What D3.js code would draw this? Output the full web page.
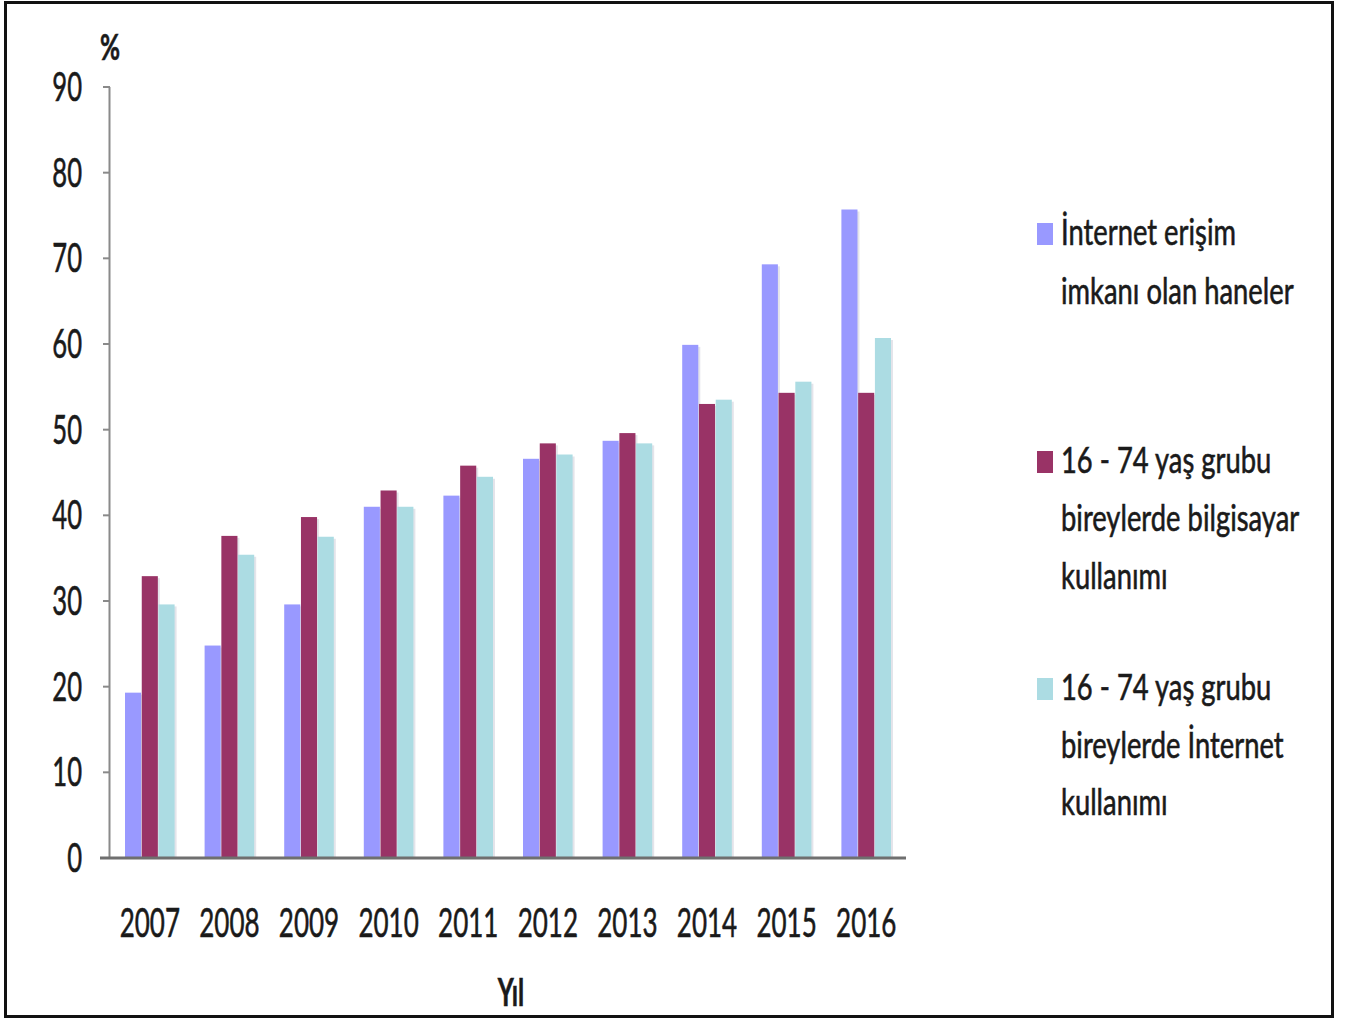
<!DOCTYPE html>
<html>
<head>
<meta charset="utf-8">
<script src="https://cdn.jsdelivr.net/npm/d3@7"></script>
<style>
  html, body { margin: 0; padding: 0; background: #fff; }
  svg { display: block; }
  text { font-family: Lato, "Open Sans", "DejaVu Sans", sans-serif; fill: #1a1a1a; stroke: #1a1a1a; stroke-width: 0.6px; }
</style>
</head>
<body>
<svg id="chart" width="1346" height="1020"></svg>
<script>
// Yearly ICT usage indicators (%)
const years = ["2007", "2008", "2009", "2010", "2011", "2012", "2013", "2014", "2015", "2016"];
const householdAccess = [19.3, 24.8, 29.6, 41.0, 42.3, 46.6, 48.7, 59.9, 69.3, 75.7];
const computerUse = [32.9, 37.6, 39.8, 42.9, 45.8, 48.4, 49.6, 53.0, 54.3, 54.3];
const internetUse = [29.6, 35.4, 37.5, 41.0, 44.5, 47.1, 48.4, 53.5, 55.6, 60.7];
const yTicks = [0, 10, 20, 30, 40, 50, 60, 70, 80, 90];
const seriesNames = [
  ["İnternet erişim", "imkanı olan haneler"],
  ["16 - 74 yaş grubu", "bireylerde bilgisayar", "kullanımı"],
  ["16 - 74 yaş grubu", "bireylerde İnternet", "kullanımı"]
];
const seriesColors = ["#9999ff", "#993366", "#acdce3"];

const series = [householdAccess, computerUse, internetUse];

const svg = d3.select("#chart");

// outer frame
svg.append("rect")
  .attr("x", 5.5).attr("y", 2.5)
  .attr("width", 1327).attr("height", 1014)
  .attr("fill", "none").attr("stroke", "#111").attr("stroke-width", 3);

const plot = { left: 110, right: 906, top: 87, bottom: 858 };

const y = d3.scaleLinear().domain([0, 90]).range([plot.bottom, plot.top]);
const x = d3.scaleBand().domain(years).range([plot.left, plot.right])
  .paddingInner(0.36).paddingOuter(0.18);
const xs = d3.scaleBand().domain(d3.range(series.length)).range([0, x.bandwidth()]).padding(0.04);

// condensed text helper
function label(parent, px, py, str, opts) {
  const o = Object.assign({ size: 40, sx: 0.6, anchor: "start", weight: "normal" }, opts || {});
  const g = parent.append("g").attr("transform", `translate(${px},${py}) scale(${o.sx},1)`);
  g.append("text")
    .attr("text-anchor", o.anchor)
    .attr("font-size", o.size)
    .attr("font-weight", o.weight)
    .text(str);
  return g;
}

// bars
const rows = [];
years.forEach((yr, i) => series.forEach((s, k) => rows.push({ yr, k, v: s[i] })));

const barG = svg.append("g");
// soft right-hand shade of each bar
barG.selectAll("rect.shade").data(rows).join("rect")
  .attr("class", "shade")
  .attr("x", d => x(d.yr) + xs(d.k) + 2)
  .attr("y", d => y(d.v) + 2)
  .attr("width", xs.bandwidth())
  .attr("height", d => y(0) - y(d.v) - 2)
  .attr("fill", "#e4e4ea");
barG.selectAll("rect.bar").data(rows).join("rect")
  .attr("class", "bar")
  .attr("x", d => x(d.yr) + xs(d.k))
  .attr("y", d => y(d.v))
  .attr("width", xs.bandwidth())
  .attr("height", d => y(0) - y(d.v))
  .attr("fill", d => seriesColors[d.k]);

// y axis
const yAxis = svg.append("g");
yAxis.append("line")
  .attr("x1", plot.left - 0.5).attr("x2", plot.left - 0.5)
  .attr("y1", y(90)).attr("y2", y(0))
  .attr("stroke", "#8a8a8a").attr("stroke-width", 2);
yAxis.selectAll("line.tick").data(yTicks).join("line")
  .attr("class", "tick")
  .attr("x1", plot.left - 7).attr("x2", plot.left)
  .attr("y1", d => y(d)).attr("y2", d => y(d))
  .attr("stroke", "#8a8a8a").attr("stroke-width", 2);
yTicks.forEach(t => label(yAxis, 82, y(t) + 14, String(t), { anchor: "end", size: 40, sx: 0.64 }));

// baseline
svg.append("line")
  .attr("x1", 100).attr("x2", plot.right)
  .attr("y1", y(0)).attr("y2", y(0))
  .attr("stroke", "#6f6f6f").attr("stroke-width", 3);

// x labels
years.forEach(yr => label(svg, x(yr) + x.bandwidth() / 2, 937, yr, { anchor: "middle", size: 40, sx: 0.65 }));

// axis titles
label(svg, 110, 60, "%", { anchor: "middle", size: 36, sx: 0.68, weight: "bold" });
label(svg, 511, 1006, "Yıl", { anchor: "middle", size: 38, sx: 0.65, weight: "bold" });

// legend
const legendBaselines = [[245, 304], [473, 531, 589], [700, 758, 815]];
const legend = svg.append("g");
seriesNames.forEach((lines, k) => {
  const b0 = legendBaselines[k][0];
  legend.append("rect")
    .attr("x", 1037).attr("y", b0 - 22)
    .attr("width", 16).attr("height", 22)
    .attr("fill", seriesColors[k]);
  lines.forEach((ln, j) => label(legend, 1061, legendBaselines[k][j], ln, { size: 36, sx: 0.76 }));
});
</script>
</body>
</html>
